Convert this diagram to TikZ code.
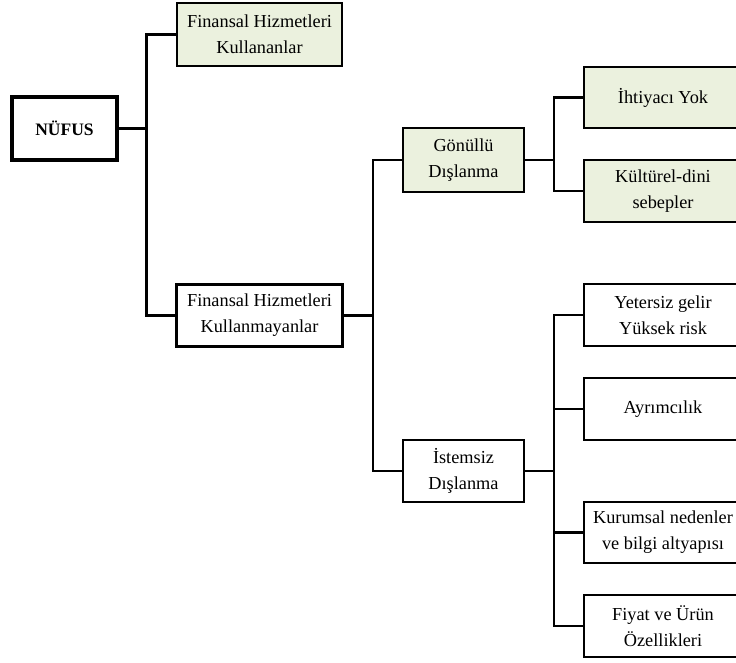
\documentclass[tikz,border=0pt]{standalone}
\usepackage{fontspec}
\setmainfont{Liberation Serif}
\definecolor{boxgreen}{HTML}{EBF1DE}
\tikzset{
  box/.style={draw=black, line width=2.3pt, inner sep=0pt, align=center,
    font=\fontsize{18.3}{26}\selectfont},
  gbox/.style={box, fill=boxgreen},
  link/.style={draw=black, line width=2.3pt},
}
\begin{document}
\begin{tikzpicture}[x=1pt,y=-1pt]
\useasboundingbox (0,0) rectangle (736,662);
\begin{scope}
\clip (0,0) rectangle (736,662);
% left column
\node[box, line width=3.8pt, minimum width=105pt, minimum height=63pt,
  font=\fontsize{17.5}{22}\selectfont\bfseries] (nufus) at (64.5,128.5) {NÜFUS};
\node[gbox, minimum width=165pt, minimum height=63pt] (kullanan) at (259.5,34.5)
  {Finansal Hizmetleri\\Kullananlar};
\node[box, minimum width=166pt, minimum height=62pt] (kullanmayan) at (259.5,315.5)
  {Finansal Hizmetleri\\Kullanmayanlar};
% middle column
\node[gbox, minimum width=121pt, minimum height=64pt] (gonullu) at (463.5,160)
  {Gönüllü\\Dışlanma};
\node[box, minimum width=121pt, minimum height=62pt] (istemsiz) at (463.5,471)
  {İstemsiz\\Dışlanma};
% right column
\node[gbox, minimum width=158pt, minimum height=61pt] (ihtiyac) at (663,97.5)
  {İhtiyacı Yok};
\node[gbox, minimum width=158pt, minimum height=62pt] (kulturel) at (663,191)
  {Kültürel-dini\\sebepler};
\node[box, minimum width=158pt, minimum height=62pt] (yetersiz) at (663,315)
  {Yetersiz gelir\\Yüksek risk};
\node[box, minimum width=158pt, minimum height=62pt] (ayrim) at (663,409)
  {Ayrımcılık};
\node[box, minimum width=158pt, minimum height=61pt] (kurumsal) at (663,532.5)
  {Kurumsal nedenler\\ve bilgi altyapısı};
\node[box, minimum width=158pt, minimum height=62pt] (fiyat) at (663,626)
  {Fiyat ve Ürün\\Özellikleri};
\end{scope}
% junctions
\coordinate (j1) at (146.5,128.5);
\coordinate (j2) at (373,315.5);
\coordinate (j3) at (554,160);
\coordinate (j4) at (554,471);
% connectors
\draw[link] (nufus.east) -- (j1);
\draw[link] (kullanan.west) -| (j1) |- (kullanmayan.west);
\draw[link] (kullanmayan.east) -- (j2);
\draw[link] (gonullu.west) -| (j2) |- (istemsiz.west);
\draw[link] (gonullu.east) -- (j3);
\draw[link] (ihtiyac.west) -| (j3) |- (kulturel.west);
\draw[link] (istemsiz.east) -- (j4);
\draw[link] (yetersiz.west) -| (j4) |- (fiyat.west);
\draw[link] (ayrim.west) -- (ayrim.west -| j4);
\draw[link] (kurumsal.west) -- (kurumsal.west -| j4);
\end{tikzpicture}
\end{document}
